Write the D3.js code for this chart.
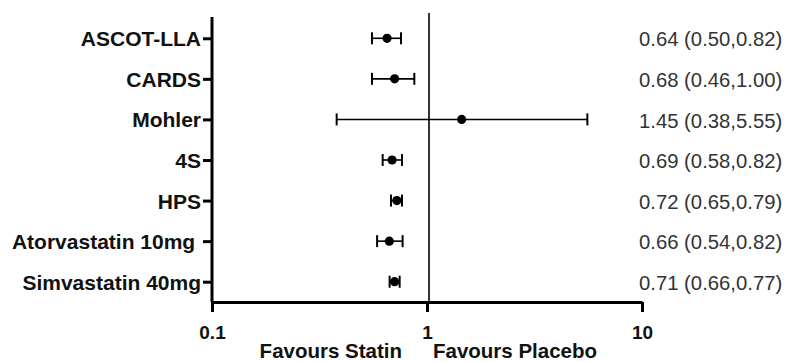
<!DOCTYPE html>
<html>
<head>
<meta charset="utf-8">
<script src="https://cdn.jsdelivr.net/npm/d3@7"></script>
<style>
  html, body { margin: 0; padding: 0; background: #fff; }
  svg { display: block; font-family: "Liberation Sans", Arial, sans-serif; }
</style>
</head>
<body>
<div id="chart"></div>
<script>
const studies = ["ASCOT-LLA", "CARDS", "Mohler", "4S", "HPS", "Atorvastatin 10mg\u00a0", "Simvastatin 40mg"];
// point estimates and CI as drawn
const estimate = [0.652, 0.707, 1.45, 0.688, 0.724, 0.668, 0.707];
const lower = [0.555, 0.555, 0.38, 0.622, 0.68, 0.586, 0.67];
const upper = [0.757, 0.873, 5.57, 0.765, 0.765, 0.77, 0.746];
const ciLabels = [
  "0.64 (0.50,0.82)", "0.68 (0.46,1.00)", "1.45 (0.38,5.55)", "0.69 (0.58,0.82)",
  "0.72 (0.65,0.79)", "0.66 (0.54,0.82)", "0.71 (0.66,0.77)"
];
const xTicks = [0.1, 1, 10];

const data = studies.map((s, i) => ({ study: s, est: estimate[i], lo: lower[i], hi: upper[i], label: ciLabels[i] }));

const W = 788, H = 362;
const svg = d3.select("#chart").append("svg").attr("width", W).attr("height", H);

const x = d3.scaleLog().domain([0.1, 10]).range([212, 642]);
const y = d3.scalePoint().domain(studies).range([18, 302]).padding(0.5);
const axisY = 302;

// reference line at 1
svg.append("line")
  .attr("x1", x(1) + 2).attr("x2", x(1) + 2)
  .attr("y1", 13).attr("y2", axisY)
  .attr("stroke", "#000").attr("stroke-width", 1.6);

// error bars
const rows = svg.append("g").selectAll("g").data(data).join("g")
  .attr("transform", d => `translate(0,${y(d.study)})`);

rows.append("line")
  .attr("x1", d => x(d.lo)).attr("x2", d => x(d.hi))
  .attr("stroke", "#000").attr("stroke-width", 1.6);
rows.append("line")
  .attr("x1", d => x(d.lo)).attr("x2", d => x(d.lo))
  .attr("y1", -6).attr("y2", 6)
  .attr("stroke", "#000").attr("stroke-width", 2);
rows.append("line")
  .attr("x1", d => x(d.hi)).attr("x2", d => x(d.hi))
  .attr("y1", -6).attr("y2", 6)
  .attr("stroke", "#000").attr("stroke-width", 2);
rows.append("circle")
  .attr("cx", d => x(d.est)).attr("r", 4.6).attr("fill", "#000");

// CI text on the right
rows.append("text")
  .attr("x", x.range()[1] - 3)
  .attr("dy", "0.4em")
  .attr("font-size", "20.3px")
  .attr("fill", "#333")
  .text(d => d.label);

// Y axis
svg.append("g")
  .attr("transform", `translate(${x(0.1)},0)`)
  .call(d3.axisLeft(y).tickSize(9).tickSizeOuter(0).tickPadding(2))
  .call(g => g.select(".domain").remove())
  .call(g => g.selectAll(".tick line").attr("stroke-width", 3))
  .call(g => g.selectAll("text")
    .attr("font-size", "21px").attr("font-weight", "bold")
    .attr("font-family", "'Liberation Sans', Arial, sans-serif")
    .attr("fill", "#111").attr("dy", "0.36em"));
svg.append("line")
  .attr("x1", x(0.1)).attr("x2", x(0.1))
  .attr("y1", 17).attr("y2", axisY)
  .attr("stroke", "#000").attr("stroke-width", 3);

// X axis
svg.append("g")
  .attr("transform", `translate(0,${axisY})`)
  .call(d3.axisBottom(x).tickValues(xTicks).tickFormat(d3.format("")).tickSize(10).tickSizeOuter(0).tickPadding(14))
  .call(g => g.select(".domain").attr("stroke-width", 3))
  .call(g => g.selectAll(".tick line").attr("stroke-width", 3))
  .call(g => g.selectAll("text")
    .attr("font-size", "19px").attr("font-weight", "bold")
    .attr("font-family", "'Liberation Sans', Arial, sans-serif")
    .attr("fill", "#111"));

// favours labels
svg.append("text")
  .attr("x", x(1) - 25).attr("y", 358)
  .attr("text-anchor", "end")
  .attr("font-size", "20.5px").attr("font-weight", "bold").attr("fill", "#111")
  .text("Favours Statin");
svg.append("text")
  .attr("x", x(1) + 6).attr("y", 358)
  .attr("font-size", "20.5px").attr("font-weight", "bold").attr("fill", "#111")
  .text("Favours Placebo");
</script>
</body>
</html>
